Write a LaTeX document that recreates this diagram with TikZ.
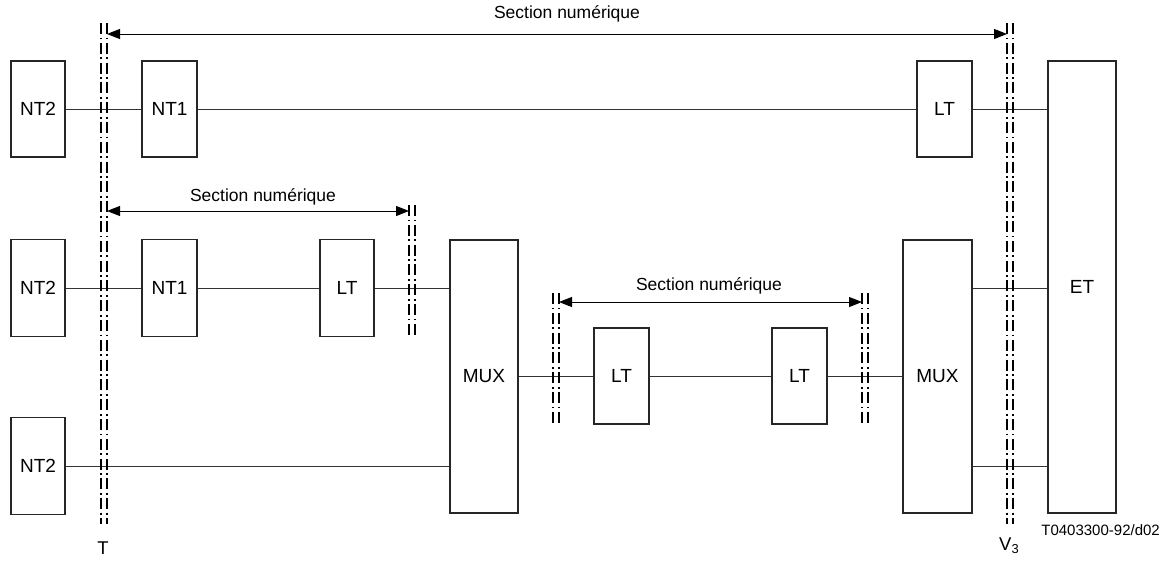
\documentclass[tikz,border=0pt]{standalone}
\usepackage{fontspec}
\setmainfont{Liberation Sans}
\usetikzlibrary{arrows.meta}
\begin{document}
\begin{tikzpicture}[x=1pt,y=-1pt,
  box/.style={draw=black!85,line width=1.1pt,minimum width=#1,inner sep=0pt,font=\fontsize{19}{19}\selectfont},
  box/.default=54pt,
  conn/.style={draw=black!80,line width=1pt},
  sep/.style={line width=2pt,line cap=butt,dash pattern=on 11pt off 3.5pt on 1.8pt off 3.5pt},
  dim/.style={line width=1pt,{Triangle[length=13pt,width=10pt]}-{Triangle[length=13pt,width=10pt]}},
  lab/.style={font=\fontsize{17.5}{17.5}\selectfont,inner sep=0pt}]
\useasboundingbox (0,0) rectangle (1162,560);
% boxes
\node[box,minimum height=96pt] (nt2a) at (38,109) {NT2};
\node[box=55pt,minimum height=96pt] (nt1a) at (169.5,109) {NT1};
\node[box=55pt,minimum height=96pt] (lta) at (944.5,109) {LT};
\node[box=68pt,minimum height=452pt] (et) at (1082,287) {ET};
\node[box,minimum height=97pt] (nt2b) at (38,288) {NT2};
\node[box=55pt,minimum height=97pt] (nt1b) at (169.5,288) {NT1};
\node[box,minimum height=97pt] (ltb) at (347,288) {LT};
\node[box=68pt,minimum height=273pt] (muxa) at (484,376.5) {MUX};
\node[box=55pt,minimum height=96pt] (ltc) at (621.5,376) {LT};
\node[box=55pt,minimum height=96pt] (ltd) at (799.5,376) {LT};
\node[box=69pt,minimum height=273pt] (muxb) at (937.5,376.5) {MUX};
\node[box,minimum height=97pt] (nt2c) at (38,466) {NT2};
% connectors
\draw[conn] (nt2a) -- (nt1a);
\draw[conn] (nt1a) -- (lta);
\draw[conn] (lta.east) -- (lta.east -| et.west);
\draw[conn] (nt2b) -- (nt1b);
\draw[conn] (nt1b) -- (ltb);
\draw[conn] (ltb.east) -- (ltb.east -| muxa.west);
\draw[conn] (nt2c.east) -- (nt2c.east -| muxa.west);
\draw[conn] (muxa.east |- ltc.west) -- (ltc.west);
\draw[conn] (ltc) -- (ltd);
\draw[conn] (ltd.east) -- (ltd.east -| muxb.west);
\draw[conn] (muxb.east |- nt2b.east) -- (nt2b.east -| et.west);
\draw[conn] (muxb.east |- nt2c.east) -- (nt2c.east -| et.west);
% reference lines
\coordinate (tA) at (101,23); \coordinate (tB) at (107,23);
\coordinate (vA) at (1007,23); \coordinate (vB) at (1013,23);
\coordinate (sA) at (409,205); \coordinate (sB) at (415,205);
\coordinate (rA) at (553,293); \coordinate (rB) at (559,293);
\coordinate (qA) at (862,293); \coordinate (qB) at (868,293);
\foreach \c in {tA,tB,vA,vB} \draw[sep] (\c) -- ++(0,501);
\foreach \c in {sA,sB} \draw[sep] (\c) -- ++(0,132);
\foreach \c in {rA,rB,qA,qB} \draw[sep] (\c) -- ++(0,132);
% dimension arrows
\coordinate (d1l) at (107,34); \coordinate (d1r) at (1007,34);
\coordinate (d2l) at (107,211); \coordinate (d2r) at (409,211);
\coordinate (d3l) at (559,302); \coordinate (d3r) at (862,302);
\draw[dim] (d1l) -- (d1r);
\draw[dim] (d2l) -- (d2r);
\draw[dim] (d3l) -- (d3r);
\node[lab] (s1) at (567,14) {Section numérique};
\node[lab] (s2) at (263,197) {Section numérique};
\node[lab] (s3) at (709,286) {Section numérique};
\node[font=\fontsize{18.5}{18.5}\selectfont,inner sep=0pt] (tl) at (103,548) {T};
\node[font=\fontsize{18.5}{18.5}\selectfont,inner sep=0pt,anchor=west] (vl) at (999,546) {V\textsubscript{3}};
\node[font=\fontsize{15}{15}\selectfont,inner sep=0pt,anchor=east] (code) at (1160,530) {T0403300-92/d02};
\end{tikzpicture}
\end{document}
